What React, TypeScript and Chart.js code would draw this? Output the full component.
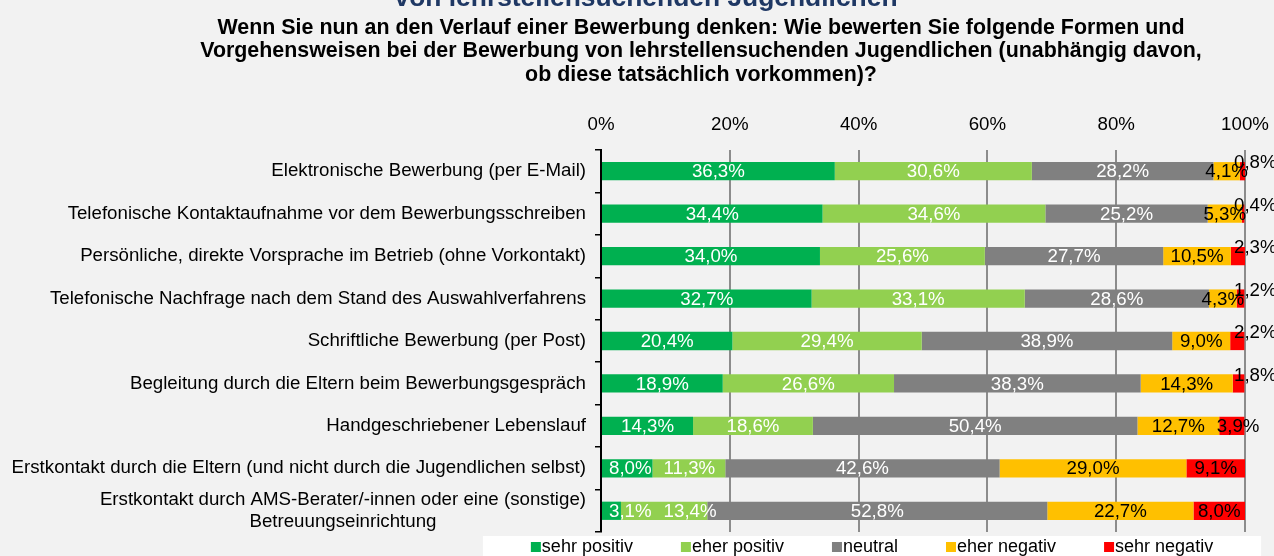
import React, { useEffect, useRef } from 'react';
import { Chart, registerables } from 'chart.js';

Chart.register(...registerables);

const categories: (string | string[])[] = [
  'Elektronische Bewerbung (per E-Mail)',
  'Telefonische Kontaktaufnahme vor dem Bewerbungsschreiben',
  'Persönliche, direkte Vorsprache im Betrieb (ohne Vorkontakt)',
  'Telefonische Nachfrage nach dem Stand des Auswahlverfahrens',
  'Schriftliche Bewerbung (per Post)',
  'Begleitung durch die Eltern beim Bewerbungsgespräch',
  'Handgeschriebener Lebenslauf',
  'Erstkontakt durch die Eltern (und nicht durch die Jugendlichen selbst)',
  ['Erstkontakt durch AMS-Berater/-innen oder eine (sonstige)', 'Betreuungseinrichtung'],
];

const seriesNames = ['sehr positiv', 'eher positiv', 'neutral', 'eher negativ', 'sehr negativ'];
const sehrPositiv = [36.3, 34.4, 34.0, 32.7, 20.4, 18.9, 14.3, 8.0, 3.1];
const eherPositiv = [30.6, 34.6, 25.6, 33.1, 29.4, 26.6, 18.6, 11.3, 13.4];
const neutral = [28.2, 25.2, 27.7, 28.6, 38.9, 38.3, 50.4, 42.6, 52.8];
const eherNegativ = [4.1, 5.3, 10.5, 4.3, 9.0, 14.3, 12.7, 29.0, 22.7];
const sehrNegativ = [0.8, 0.4, 2.3, 1.2, 2.2, 1.8, 3.9, 9.1, 8.0];
const seriesColors = ['#00B050', '#92D050', '#808080', '#FFC000', '#FF0000'];
const labelColors = ['#ffffff', '#ffffff', '#ffffff', '#000000', '#000000'];

const superTitle = 'von lehrstellensuchenden Jugendlichen';
const titleLines = [
  'Wenn Sie nun an den Verlauf einer Bewerbung denken: Wie bewerten Sie folgende Formen und',
  'Vorgehensweisen bei der Bewerbung von lehrstellensuchenden Jugendlichen (unabhängig davon,',
  'ob diese tatsächlich vorkommen)?',
];

const FONT = '"Liberation Sans", Arial, sans-serif';
const FS = 18.7;

const fmt = (v: number) => v.toFixed(1).replace('.', ',') + '%';

const decorPlugin = {
  id: 'decor',
  beforeDraw(chart: any) {
    const ctx = chart.ctx;
    ctx.save();
    ctx.fillStyle = '#F2F2F2';
    ctx.fillRect(0, 0, chart.width, chart.height);
    ctx.restore();
  },
  afterDatasetsDraw(chart: any) {
    const ctx = chart.ctx;
    const xScale = chart.scales.x;
    const area = chart.chartArea;
    ctx.save();
    ctx.font = `${FS}px ${FONT}`;
    ctx.textBaseline = 'middle';
    const n = chart.data.labels.length;
    for (let i = 0; i < n; i++) {
      let prevRight = -Infinity;
      chart.data.datasets.forEach((ds: any, di: number) => {
        const bar: any = chart.getDatasetMeta(di).data[i];
        const v = ds.data[i] as number;
        const txt = fmt(v);
        const w = ctx.measureText(txt).width;
        ctx.fillStyle = labelColors[di];
        if (di === 4 && v < 3) {
          ctx.textAlign = 'left';
          ctx.fillText(txt, xScale.getPixelForValue(100) - 11, bar.y - 8);
          return;
        }
        let left = (bar.x + bar.base) / 2 - w / 2;
        if (left < area.left + 8) left = area.left + 8;
        if (left < prevRight + 12) left = prevRight + 12;
        ctx.textAlign = 'left';
        ctx.fillText(txt, left, bar.y + 1);
        prevRight = left + w;
      });
    }
    ctx.restore();
  },
  afterDraw(chart: any) {
    const ctx = chart.ctx;
    const yScale = chart.scales.y;
    ctx.save();
    // category labels (multi-line labels centred within their block)
    ctx.font = `${FS}px ${FONT}`;
    ctx.fillStyle = '#000000';
    ctx.textBaseline = 'middle';
    ctx.textAlign = 'center';
    const labelRight = chart.chartArea.left - 15;
    chart.data.labels.forEach((lab: any, i: number) => {
      const lines: string[] = Array.isArray(lab) ? lab : [lab];
      const bw = Math.max(...lines.map((l) => ctx.measureText(l).width));
      const y0 = yScale.getPixelForTick(i);
      const lh = 21.5;
      lines.forEach((l, j) => {
        ctx.fillText(l, labelRight - bw / 2, y0 + (j - (lines.length - 1) / 2) * lh);
      });
    });
    // clipped super title
    ctx.fillStyle = '#1F3864';
    ctx.font = `bold 26.4px ${FONT}`;
    ctx.textAlign = 'center';
    ctx.textBaseline = 'alphabetic';
    ctx.fillText(superTitle, 646, 6);
    // main title
    ctx.fillStyle = '#000000';
    ctx.font = `bold 21.4px ${FONT}`;
    ctx.textBaseline = 'middle';
    titleLines.forEach((line, i) => {
      ctx.fillText(line, 701, 28 + i * 23.5);
    });
    // legend
    ctx.font = `18px ${FONT}`;
    const sq = 10;
    const gap = 48;
    const items = chart.data.datasets.map((ds: any) => ({
      label: ds.label as string,
      color: ds.backgroundColor as string,
      w: sq + 1 + ctx.measureText(ds.label).width,
    }));
    const total = items.reduce((s: number, it: any) => s + it.w, 0) + gap * (items.length - 1);
    const cx = 872;
    ctx.fillStyle = '#ffffff';
    ctx.fillRect(cx - total / 2 - 48, 536, total + 96, 30);
    let x = cx - total / 2;
    const ly = 547;
    items.forEach((it: any) => {
      ctx.fillStyle = it.color;
      ctx.fillRect(x, ly - sq / 2, sq, sq);
      ctx.fillStyle = '#000000';
      ctx.textAlign = 'left';
      ctx.textBaseline = 'middle';
      ctx.fillText(it.label, x + sq + 1, ly);
      x += it.w + gap;
    });
    ctx.restore();
  },
};

export default function App() {
  const canvasRef = useRef<HTMLCanvasElement | null>(null);

  useEffect(() => {
    document.body.style.margin = '0';
    document.body.style.background = '#F2F2F2';
    const canvas = canvasRef.current;
    if (!canvas) return;
    const values = [sehrPositiv, eherPositiv, neutral, eherNegativ, sehrNegativ];
    const chart = new Chart(canvas, {
      type: 'bar',
      data: {
        labels: categories as any,
        datasets: values.map((d, i) => ({
          label: seriesNames[i],
          data: d,
          backgroundColor: seriesColors[i],
          borderWidth: 0,
          barPercentage: 0.43,
          categoryPercentage: 1,
        })),
      },
      options: {
        indexAxis: 'y',
        animation: false,
        responsive: false,
        maintainAspectRatio: false,
        devicePixelRatio: 1,
        layout: { padding: { top: 115, right: 29, bottom: 24, left: 0 } },
        plugins: {
          legend: { display: false },
          title: { display: false },
          tooltip: { enabled: false },
        },
        scales: {
          x: {
            type: 'linear',
            position: 'top',
            stacked: true,
            min: 0,
            max: 100,
            ticks: {
              stepSize: 20,
              callback: (v: any) => v + '%',
              font: { size: FS, family: FONT },
              color: '#000000',
              padding: 14,
            },
            grid: {
              drawTicks: false,
              lineWidth: 2,
              color: (c: any) => (c.tick && c.tick.value === 0 ? 'rgba(0,0,0,0)' : '#8C8C8C'),
            },
            border: { display: false },
            afterFit: (s: any) => {
              s.height = 35;
              s.paddingLeft = 0;
              s.paddingRight = 0;
            },
          },
          y: {
            type: 'category',
            stacked: true,
            grid: {
              offset: true,
              drawOnChartArea: false,
              tickLength: 6,
              color: '#000000',
              lineWidth: 1.5,
            },
            border: { color: '#000000', width: 2 },
            ticks: {
              display: false,
              autoSkip: false,
            },
            afterFit: (s: any) => {
              s.width = 601;
              s.paddingTop = 0;
              s.paddingBottom = 0;
            },
          },
        },
      },
      plugins: [decorPlugin],
    });
    return () => chart.destroy();
  }, []);

  return (
    <div style={{ width: 1274, height: 556, background: '#F2F2F2' }}>
      <canvas ref={canvasRef} width={1274} height={556} style={{ display: 'block' }} />
    </div>
  );
}
